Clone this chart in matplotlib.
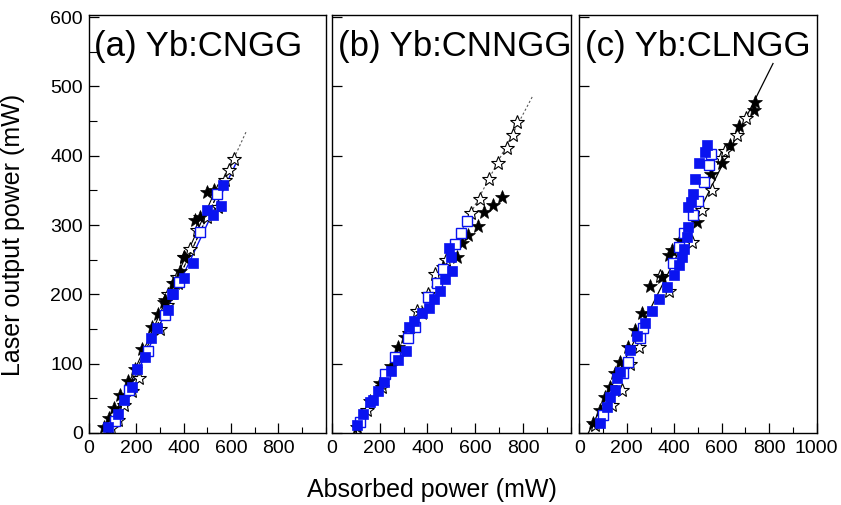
import numpy as np
import matplotlib
matplotlib.use("Agg")
import matplotlib.pyplot as plt
from matplotlib.ticker import MultipleLocator

plt.rcParams.update({
    "font.family": ["Liberation Sans", "DejaVu Sans"],
    "font.size": 14,
    "axes.linewidth": 1.0,
})

# ---------------------------------------------------------------------------
# (a) Yb:CNGG
# ---------------------------------------------------------------------------
a_fstar_x = [66, 86, 108, 132, 165, 196, 227, 266, 291, 319, 322, 357, 365, 386, 400, 449, 470, 498, 529]
a_fstar_y = [9, 21, 36, 55, 75, 92, 121, 153, 171, 189, 192, 217, 217, 233, 254, 307, 312, 347, 351]
a_ostar_x = [94, 123, 151, 182, 213, 301, 330, 336, 372, 376, 400, 428, 456, 498, 547, 576, 590, 614]
a_ostar_y = [7, 19, 40, 60, 79, 150, 185, 201, 225, 216, 254, 266, 293, 312, 326, 365, 379, 395]
a_fsq_x = [83, 125, 151, 182, 203, 238, 263, 287, 334, 353, 355, 400, 439, 498, 526, 557, 568]
a_fsq_y = [9, 28, 48, 66, 92, 109, 137, 151, 177, 201, 201, 223, 245, 322, 314, 327, 358]
a_osq_x = [110, 170, 250, 320, 380, 470, 540]
a_osq_y = [18, 62, 118, 170, 218, 290, 345]
a_solid_x, a_solid_y = [75, 545], [0, 358]
a_blue_x, a_blue_y = [85, 618], [0, 387]
a_dash_x, a_dash_y = [80, 615], [0, 398]
a_dot_x, a_dot_y = [80, 663], [0, 434]

# ---------------------------------------------------------------------------
# (b) Yb:CNNGG
# ---------------------------------------------------------------------------
b_fstar_x = [103, 161, 201, 245, 278, 306, 377, 466, 523, 543, 571, 610, 637, 676, 711]
b_fstar_y = [9, 46, 72, 96, 124, 139, 173, 240, 254, 274, 285, 299, 319, 329, 340]
b_ostar_x = [145, 208, 271, 323, 355, 401, 433, 477, 582, 620, 658, 694, 732, 760, 776]
b_ostar_y = [33, 67, 110, 144, 176, 201, 230, 249, 317, 338, 366, 390, 411, 430, 448]
b_fsq_x = [103, 131, 160, 173, 194, 218, 247, 278, 310, 323, 344, 378, 408, 429,
           452, 473, 491, 498, 501]
b_fsq_y = [11, 27, 44, 47, 61, 73, 90, 105, 118, 153, 162, 173, 181, 193,
           205, 222, 267, 254, 233]
b_osq_x = [117, 222, 264, 320, 348, 404, 438, 466, 515, 539, 564]
b_osq_y = [16, 85, 110, 137, 153, 196, 216, 236, 272, 289, 306]
b_dot_x, b_dot_y = [95, 839], [0, 485]

# ---------------------------------------------------------------------------
# (c) Yb:CLNGG
# ---------------------------------------------------------------------------
c_fstar_x = [59, 87, 108, 130, 151, 172, 207, 235, 263, 298, 348, 376, 390, 425,
             495, 554, 601, 636, 671, 734, 741]
c_fstar_y = [14, 33, 52, 67, 86, 103, 124, 149, 173, 212, 225, 257, 264, 279,
             305, 374, 389, 415, 443, 466, 478]
c_ostar_x = [66, 137, 179, 214, 253, 341, 380, 474, 516, 559, 599, 615, 664, 703]
c_ostar_y = [12, 40, 62, 100, 124, 226, 205, 276, 321, 350, 396, 407, 430, 454]
c_fsq_x = [87, 118, 130, 151, 160, 172, 214, 245, 277, 305, 336, 371, 401, 418,
           432, 442, 453, 460, 460, 469, 478, 488, 506, 530, 538]
c_fsq_y = [14, 38, 52, 62, 79, 88, 120, 140, 159, 176, 193, 210, 228, 242,
           254, 266, 283, 297, 326, 333, 345, 367, 389, 406, 416]
c_osq_x = [101, 183, 207, 256, 270, 394, 421, 442, 477, 502, 526, 547, 554]
c_osq_y = [26, 86, 103, 137, 151, 245, 269, 288, 314, 335, 362, 386, 403]
c_solid_x, c_solid_y = [38, 816], [0, 533]

TITLES = ["(a) Yb:CNGG", "(b) Yb:CNNGG", "(c) Yb:CLNGG"]
BLUE = "#0a14f0"

fig = plt.figure(figsize=(8.41, 5.05), dpi=100)
ax_a = fig.add_axes([0.1053, 0.1426, 0.2823, 0.8277])
ax_b = fig.add_axes([0.3948, 0.1426, 0.2838, 0.8277])
ax_c = fig.add_axes([0.6888, 0.1426, 0.2823, 0.8277])


def draw_points(ax, fsx, fsy, osx, osy, fqx, fqy, oqx, oqy):
    ax.plot(osx, osy, ls="none", marker="*", ms=10, mfc="white", mec="black", mew=0.8)
    ax.plot(fsx, fsy, ls="none", marker="*", ms=10, mfc="black", mec="black", mew=0.5)
    ax.plot(oqx, oqy, ls="none", marker="s", ms=6.5, mfc="white", mec=BLUE, mew=1.0)
    ax.plot(fqx, fqy, ls="none", marker="s", ms=6.5, mfc=BLUE, mec=BLUE, mew=0.5)


# panel a
ax_a.plot(a_dot_x, a_dot_y, ls=(0, (2, 2)), color="0.35", lw=0.8)
ax_a.plot(a_dash_x, a_dash_y, ls="--", color="black", lw=0.8)
ax_a.plot(a_blue_x, a_blue_y, ls="-", color=BLUE, lw=1.0)
ax_a.plot(a_solid_x, a_solid_y, ls="-", color="black", lw=0.8)
draw_points(ax_a, a_fstar_x, a_fstar_y, a_ostar_x, a_ostar_y,
            a_fsq_x, a_fsq_y, a_osq_x, a_osq_y)

# panel b
ax_b.plot(b_dot_x, b_dot_y, ls=(0, (2, 2)), color="0.35", lw=0.8)
draw_points(ax_b, b_fstar_x, b_fstar_y, b_ostar_x, b_ostar_y,
            b_fsq_x, b_fsq_y, b_osq_x, b_osq_y)

# panel c
ax_c.plot(c_solid_x, c_solid_y, ls="-", color="black", lw=0.9)
draw_points(ax_c, c_fstar_x, c_fstar_y, c_ostar_x, c_ostar_y,
            c_fsq_x, c_fsq_y, c_osq_x, c_osq_y)

for i, ax in enumerate([ax_a, ax_b, ax_c]):
    ax.set_xlim(0, 1000)
    ax.set_ylim(0, 603)
    ax.xaxis.set_major_locator(MultipleLocator(200))
    ax.xaxis.set_minor_locator(MultipleLocator(100))
    ax.yaxis.set_major_locator(MultipleLocator(100))
    ax.tick_params(which="major", direction="in", length=7, width=0.9, labelsize=14)
    ax.tick_params(which="minor", direction="in", length=4, width=0.8)
    ax.tick_params(axis="x", pad=5)
    ax.tick_params(axis="y", pad=4)
    ticks = [0, 200, 400, 600, 800] if i < 2 else [0, 200, 400, 600, 800, 1000]
    ax.set_xticks(ticks)
    ax.set_xticklabels([str(t) for t in ticks])
    ax.text(0.025, 0.925, TITLES[i], transform=ax.transAxes, fontsize=25,
            ha="left", va="center")
    if i > 0:
        ax.set_yticklabels([])

ax_a.yaxis.set_minor_locator(MultipleLocator(50))
ax_a.tick_params(axis="y", which="minor", length=6)
ax_a.set_ylabel("Laser output power (mW)", fontsize=18)
ax_a.yaxis.set_label_coords(-0.268, 0.474)
fig.text(0.514, 0.03, "Absorbed power (mW)", fontsize=18, ha="center", va="center")

fig.savefig("out.png", dpi=100)
